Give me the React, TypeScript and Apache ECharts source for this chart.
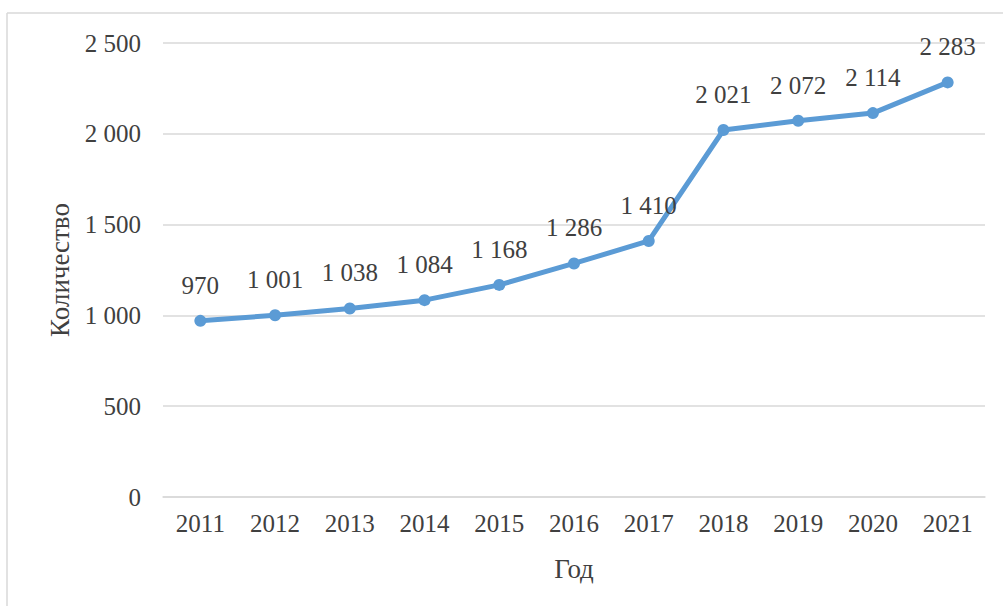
import React, { useEffect, useRef } from "react";
import * as echarts from "echarts";

const years = ["2011", "2012", "2013", "2014", "2015", "2016", "2017", "2018", "2019", "2020", "2021"];
const counts = [970, 1001, 1038, 1084, 1168, 1286, 1410, 2021, 2072, 2114, 2283];
const yTicks = { min: 0, max: 2500, interval: 500 };

const fmt = (v: number) => String(v).replace(/\B(?=(\d{3})+(?!\d))/g, " ");
const FONT = "'Liberation Serif', 'Times New Roman', serif";

export default function App() {
  const ref = useRef<HTMLDivElement>(null);
  useEffect(() => {
    if (!ref.current) return;
    const chart = echarts.init(ref.current, null, { renderer: "svg" });
    chart.setOption({
      animation: false,
      backgroundColor: "#ffffff",
      grid: { left: 163, right: 18, top: 43, bottom: 109 },
      graphic: [
        { type: "line", shape: { x1: 7, y1: 13, x2: 1003, y2: 13 }, style: { stroke: "#d9d9d9", lineWidth: 1.5 } },
        { type: "line", shape: { x1: 7, y1: 13, x2: 7, y2: 606 }, style: { stroke: "#d9d9d9", lineWidth: 1.5 } },
      ],
      xAxis: {
        type: "category",
        data: years,
        boundaryGap: true,
        name: "Год",
        nameLocation: "middle",
        nameGap: 58,
        nameTextStyle: { fontFamily: FONT, fontSize: 27, color: "#404040" },
        axisLine: { show: true, lineStyle: { color: "#d9d9d9", width: 1.5 } },
        axisTick: { show: false },
        axisLabel: { fontFamily: FONT, fontSize: 25, color: "#404040", margin: 14 },
      },
      yAxis: {
        type: "value",
        min: yTicks.min,
        max: yTicks.max,
        interval: yTicks.interval,
        name: "Количество",
        nameLocation: "middle",
        nameGap: 89,
        nameTextStyle: { fontFamily: FONT, fontSize: 27, color: "#404040" },
        axisLine: { show: false },
        axisTick: { show: false },
        splitLine: { lineStyle: { color: "#d9d9d9", width: 1.5 } },
        axisLabel: { fontFamily: FONT, fontSize: 25, color: "#404040", margin: 22, formatter: (v: number) => fmt(v) },
      },
      series: [
        {
          type: "line",
          data: counts,
          symbol: "circle",
          symbolSize: 12,
          lineStyle: { color: "#5b9bd5", width: 5 },
          itemStyle: { color: "#5b9bd5" },
          label: {
            show: true,
            position: "top",
            distance: 17,
            fontFamily: FONT,
            fontSize: 25,
            color: "#404040",
            formatter: (p: any) => fmt(p.value),
          },
        },
      ],
    });
    return () => chart.dispose();
  }, []);
  return <div ref={ref} style={{ position: "fixed", left: 0, top: 0, width: 1003, height: 606 }} />;
}
